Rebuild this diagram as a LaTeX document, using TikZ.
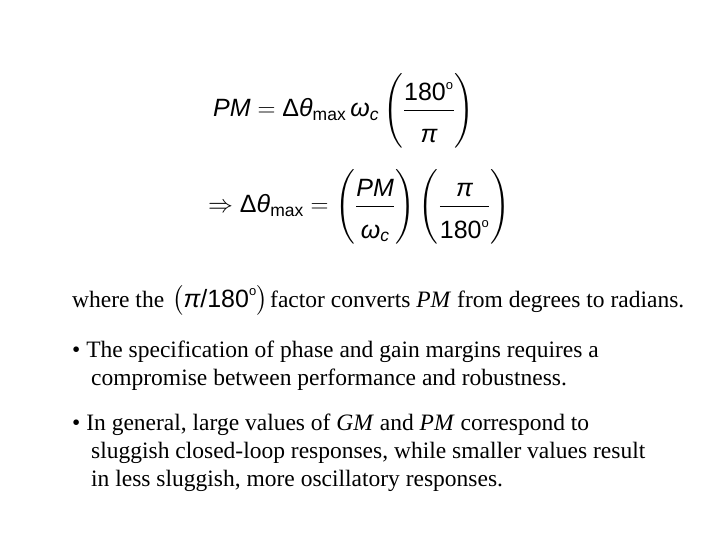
\documentclass[tikz,border=0pt]{standalone}
\usepackage{amsmath}
\usepackage{fontspec}
\setmainfont{Liberation Serif}
\newfontfamily\eqf{Liberation Sans}
\newcommand{\ei}[1]{\text{\eqf\itshape #1}}
\newcommand{\eu}[1]{\text{\eqf #1}}
\newcommand{\dg}{^{\text{\eqf\fontsize{13}{13}\selectfont o}}}
\newcommand{\tallfrac}[2]{\frac{\rule[-4pt]{0pt}{30pt}#1}{\rule{0pt}{28pt}#2}}
\tikzset{txt/.style={anchor=base west,inner sep=0pt,font=\fontsize{23.5}{28}\selectfont},
 eq/.style={anchor=base west,inner sep=0pt,font=\fontsize{25}{30}\selectfont}}
\begin{document}
\begin{tikzpicture}[x=1pt,y=-1pt]
\useasboundingbox (0,0) rectangle (720,540);
\node[eq] (e1) at (213,117) {$\displaystyle \ei{PM}=\eu{Δ}\ei{θ}_{\eu{max}}\,\ei{ω}_{\ei{c}}\left(\tallfrac{\eu{180}\dg}{\ei{π}}\right)$};
\node[eq] (e2) at (208,213) {$\displaystyle \Rightarrow\eu{Δ}\ei{θ}_{\eu{max}}=\left(\tallfrac{\ei{PM}}{\ei{ω}_{\ei{c}}}\right)\left(\tallfrac{\ei{π}}{\eu{180}\dg}\right)$};
\node[txt] (w1) at (72,307) {where the};
\node[eq] (f) at (172,307) {$\left(\rule[-8pt]{0pt}{30pt}\ei{π}\eu{/180}\dg\right)$};
\node[txt] (w2) at (270,307) {factor converts \textit{PM} from degrees to radians.};
\node[txt,align=left,anchor=north west] (b1) at (72,341) {• The specification of phase and gain margins requires a\\
\hspace*{19pt}compromise between performance and robustness.};
\node[txt,align=left,anchor=north west] (b2) at (72,414) {• In general, large values of \textit{GM} and \textit{PM} correspond to\\
\hspace*{19pt}sluggish closed-loop responses, while smaller values result\\
\hspace*{19pt}in less sluggish, more oscillatory responses.};
\end{tikzpicture}
\end{document}
